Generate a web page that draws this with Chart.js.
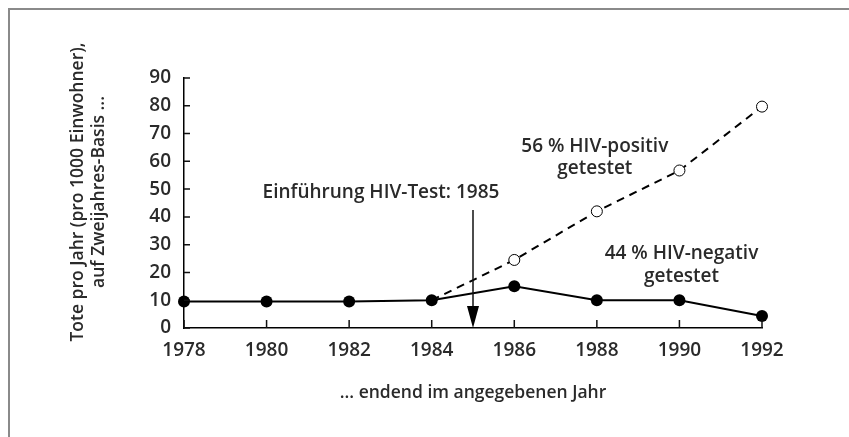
<!DOCTYPE html>
<html>
<head>
<meta charset="utf-8">
<script src="https://cdn.jsdelivr.net/npm/chart.js@4/dist/chart.umd.min.js"></script>
<style>
  html, body { margin: 0; padding: 0; background: #fff; }
  #wrap { width: 849px; height: 437px; }
</style>
</head>
<body>
<div id="wrap"><canvas id="c" width="849" height="437"></canvas></div>
<script>
// ---- data ----
const years = [1978, 1980, 1982, 1984, 1986, 1988, 1990, 1992];
const hivNegativ = [9.5, 9.5, 9.5, 10, 15, 10, 10, 4.3];
const hivPositiv = [null, null, null, 10, 24.5, 42, 56.7, 79.7];
const yTitleLines = ["Tote pro Jahr (pro 1000 Einwohner),", "auf Zweijahres-Basis ..."];
const xTitle = "... endend im angegebenen Jahr";
const testYear = 1985;
const testLabel = "Einführung HIV-Test: 1985";
const posLabel = ["56 % HIV-positiv", "getestet"];
const negLabel = ["44 % HIV-negativ", "getestet"];

const FONT = "'Open Sans', 'DejaVu Sans', sans-serif";
const WEIGHT = 600;
const INK = "#2a2a2a";

const toPoints = arr => years.map((x, i) => ({ x, y: arr[i] })).filter(p => p.y !== null);

const decorPlugin = {
  id: 'decor',
  beforeDraw(chart) {
    const ctx = chart.ctx;
    ctx.save();
    ctx.strokeStyle = '#8a8a8a';
    ctx.lineWidth = 2;
    ctx.beginPath();
    ctx.moveTo(9, 437);
    ctx.lineTo(9, 9);
    ctx.lineTo(849, 9);
    ctx.stroke();
    ctx.restore();
  },
  afterDatasetsDraw(chart) {
    const ctx = chart.ctx;
    const xs = chart.scales.x, ys = chart.scales.y;
    ctx.save();
    // inward tick marks
    ctx.strokeStyle = '#111';
    ctx.lineWidth = 1.5;
    ctx.beginPath();
    xs.ticks.forEach(t => {
      const px = xs.getPixelForValue(t.value);
      ctx.moveTo(px, xs.top);
      ctx.lineTo(px, xs.top - 8);
    });
    ys.ticks.forEach(t => {
      const py = ys.getPixelForValue(t.value);
      ctx.moveTo(ys.right, py);
      ctx.lineTo(ys.right + 6, py);
    });
    ctx.stroke();

    // arrow for HIV test introduction
    const ax = xs.getPixelForValue(testYear);
    const yBase = ys.getPixelForValue(0);
    ctx.lineWidth = 1.5;
    ctx.beginPath();
    ctx.moveTo(ax, 210);
    ctx.lineTo(ax, yBase - 18);
    ctx.stroke();
    ctx.fillStyle = '#000';
    ctx.beginPath();
    ctx.moveTo(ax - 6, yBase - 22);
    ctx.lineTo(ax + 6, yBase - 22);
    ctx.lineTo(ax, yBase);
    ctx.closePath();
    ctx.fill();

    // annotation texts
    ctx.fillStyle = INK;
    ctx.font = WEIGHT + " 19px " + FONT;
    ctx.textAlign = 'center';
    ctx.textBaseline = 'middle';
    ctx.fillText(testLabel, 381, 193);
    ctx.fillText(posLabel[0], xs.getPixelForValue(1987.95), 147);
    ctx.fillText(posLabel[1], xs.getPixelForValue(1987.95), 169);
    ctx.fillText(negLabel[0], xs.getPixelForValue(1990.05), 254);
    ctx.fillText(negLabel[1], xs.getPixelForValue(1990.05), 277);
    ctx.restore();
  }
};

new Chart(document.getElementById('c'), {
  type: 'line',
  data: {
    datasets: [
      {
        label: 'HIV-negativ',
        data: toPoints(hivNegativ),
        borderColor: '#000',
        borderWidth: 2,
        backgroundColor: '#000',
        pointBackgroundColor: '#000',
        pointBorderColor: '#000',
        pointRadius: 6,
        pointBorderWidth: 0,
        tension: 0,
        clip: false,
        order: 1
      },
      {
        label: 'HIV-positiv',
        data: toPoints(hivPositiv),
        borderColor: '#000',
        borderWidth: 2,
        borderDash: [8, 6],
        pointBackgroundColor: '#fff',
        pointBorderColor: '#000',
        pointBorderWidth: 1,
        pointRadius: ctx => ctx.dataIndex === 0 ? 0 : 5.5,
        tension: 0,
        clip: false,
        order: 2
      }
    ]
  },
  plugins: [decorPlugin],
  options: {
    responsive: false,
    animation: false,
    events: [],
    layout: { padding: { top: 78, right: 87, left: 0, bottom: 0 } },
    plugins: { legend: { display: false }, tooltip: { enabled: false } },
    scales: {
      x: {
        type: 'linear',
        min: 1978,
        max: 1992,
        afterFit: s => { s.height = 109; },
        border: { display: true, color: '#000', width: 1.5 },
        grid: { display: false, drawTicks: false },
        ticks: {
          stepSize: 2,
          padding: 11,
          color: INK,
          font: { family: FONT, size: 19, weight: WEIGHT },
          callback: v => String(v),
          maxRotation: 0
        },
        title: {
          display: true,
          text: xTitle,
          color: INK,
          font: { family: FONT, size: 17.5, weight: WEIGHT },
          padding: { top: 0, bottom: 33 }
        }
      },
      y: {
        min: 0,
        max: 90,
        afterFit: s => {
          s.width = 184;
          s.drawTitle = function () {
            this.ctx.save();
            this.ctx.translate(0, -11);
            Chart.Scale.prototype.drawTitle.call(this);
            this.ctx.restore();
          };
        },
        border: { display: true, color: '#000', width: 1.5 },
        grid: { display: false, drawTicks: false },
        ticks: {
          stepSize: 10,
          padding: 13,
          color: INK,
          font: { family: FONT, size: 19, weight: WEIGHT }
        },
        title: {
          display: true,
          text: yTitleLines,
          color: INK,
          font: { family: FONT, size: 17.5, weight: WEIGHT, lineHeight: 1.23 },
          padding: { top: 67, bottom: 0 }
        }
      }
    }
  }
});
</script>
</body>
</html>
